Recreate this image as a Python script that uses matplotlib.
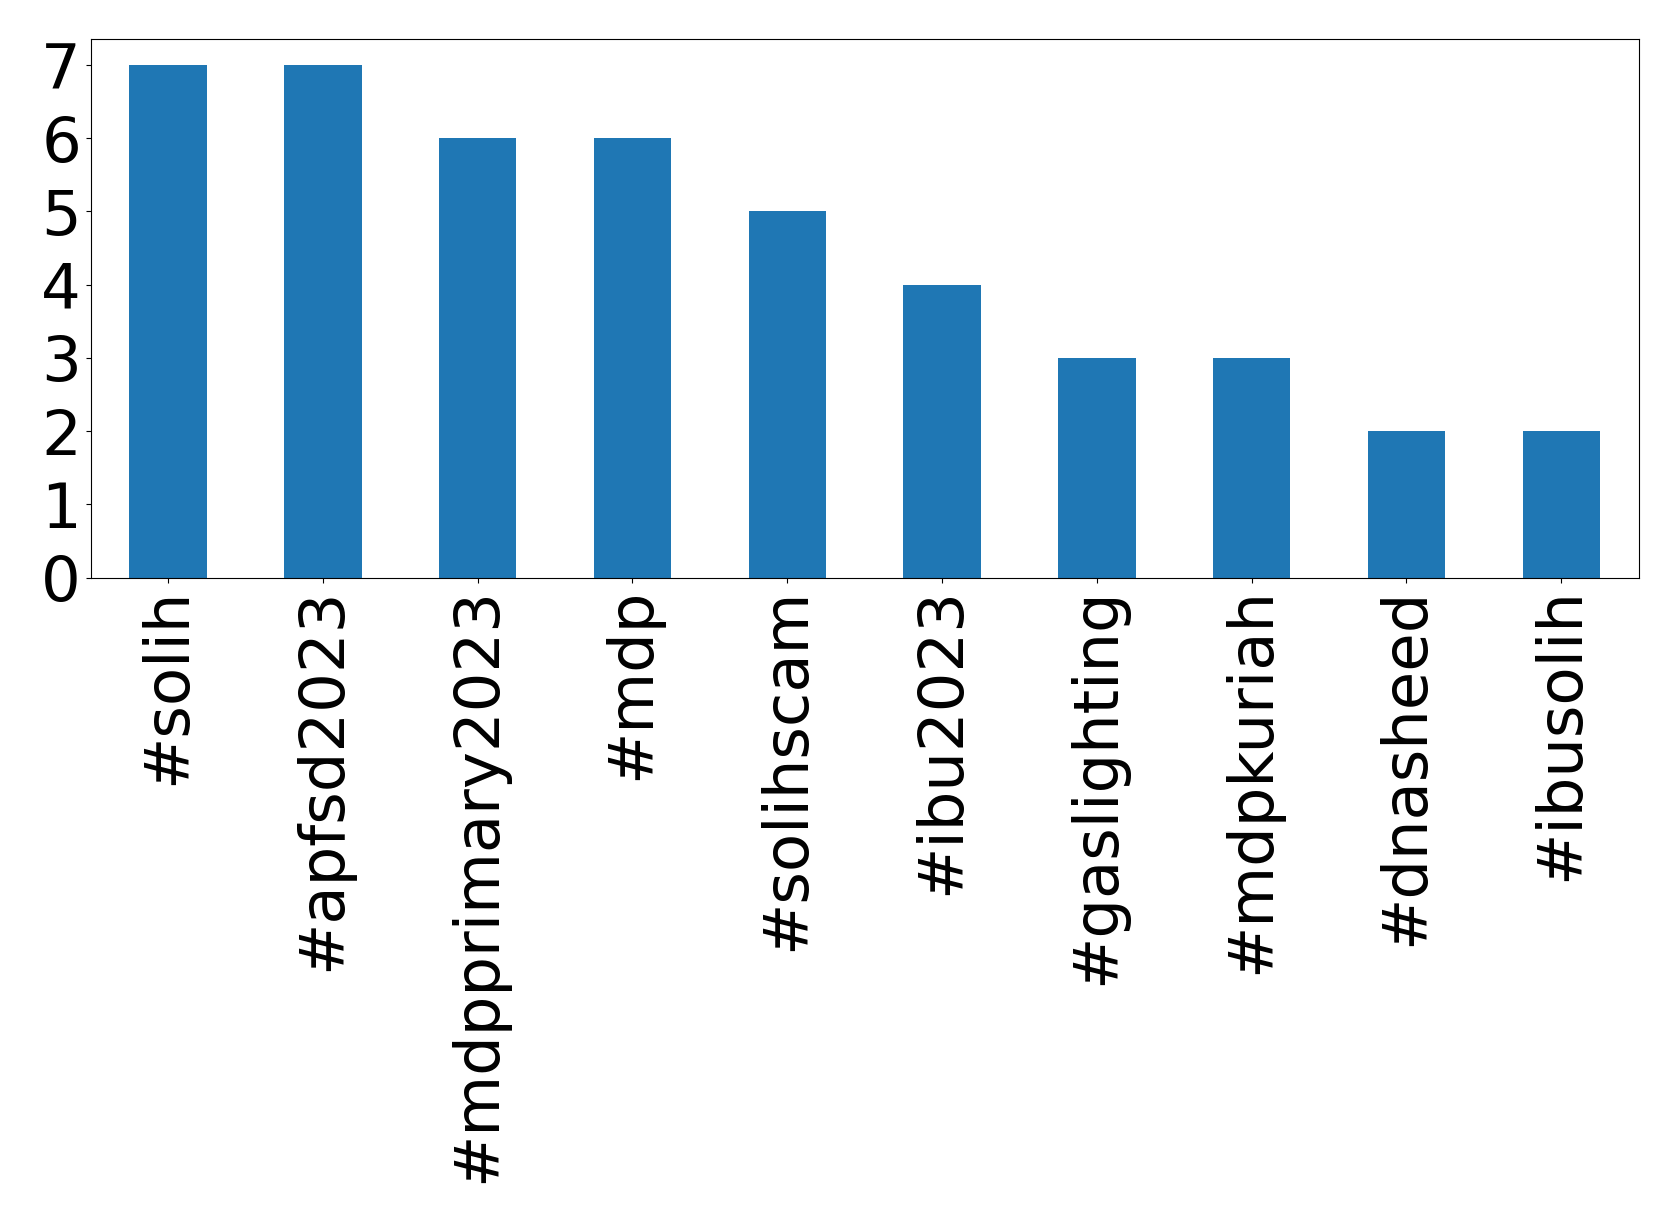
import matplotlib
matplotlib.use("Agg")
import matplotlib.pyplot as plt
import pandas as pd

# hashtag counts
hashtags = ["#solih", "#apfsd2023", "#mdpprimary2023", "#mdp", "#solihscam",
            "#ibu2023", "#gaslighting", "#mdpkuriah", "#dnasheed", "#ibusolih"]
counts = [7, 7, 6, 6, 5, 4, 3, 3, 2, 2]

s = pd.Series(counts, index=hashtags)

fig = plt.figure(figsize=(16.79, 12.24), dpi=100)
ax = fig.add_axes([0.054, 0.528, 0.922, 0.44])
s.plot(kind="bar", ax=ax, color="#1f77b4", width=0.5)
ax.tick_params(axis="both", labelsize=45)
ax.set_yticks(range(0, 8))
ax.set_ylim(0, 7.35)
plt.savefig("out.png", dpi=100)
